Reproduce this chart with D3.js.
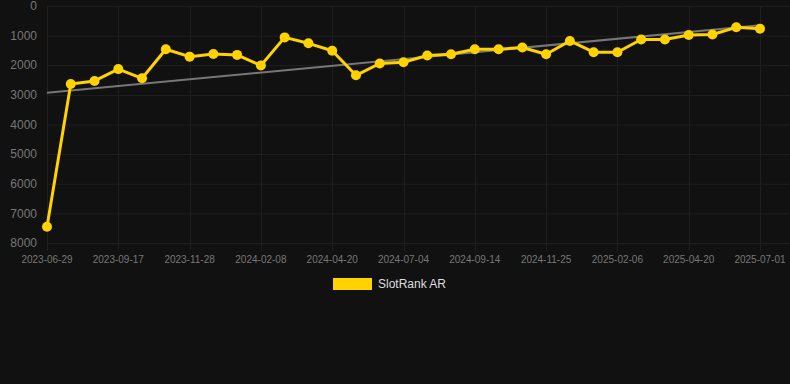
<!DOCTYPE html>
<html lang="en">
<head>
    <meta charset="UTF-8" />
    <title>SlotRank AR</title>
    <script src="https://d3js.org/d3.v7.min.js"></script>
    <style>
        html, body { margin: 0; padding: 0; background: #111111; }
        body { font-family: Arial, "Liberation Sans", sans-serif; }
        .grid line { stroke: #1f1f1f; stroke-width: 1px; }
        .axis text { fill: #777777; }
    </style>
</head>
<body>
    <script>
        // dates (one per point), every 3rd one is labelled
        const dates = [
            "2023-06-29", "2023-07-26", "2023-08-22", "2023-09-17", "2023-10-11", "2023-11-04",
            "2023-11-28", "2023-12-22", "2024-01-15", "2024-02-08", "2024-03-03", "2024-03-27",
            "2024-04-20", "2024-05-15", "2024-06-09", "2024-07-04", "2024-07-28", "2024-08-21",
            "2024-09-14", "2024-10-08", "2024-11-01", "2024-11-25", "2024-12-19", "2025-01-13",
            "2025-02-06", "2025-03-02", "2025-03-27", "2025-04-20", "2025-05-14", "2025-06-07",
            "2025-07-01"
        ];
        // rank values (lower = better, axis is inverted)
        const ranks = [
            7450, 2630, 2530, 2130, 2440, 1460, 1710, 1620, 1650, 2010,
            1060, 1260, 1510, 2340, 1940, 1900, 1670, 1630, 1460, 1460,
            1400, 1630, 1180, 1560, 1560, 1130, 1130, 980, 960, 720, 770
        ];
        // trend line values at first and last date
        const trendEnds = [2930, 650];
        const yTicks = [0, 1000, 2000, 3000, 4000, 5000, 6000, 7000, 8000];
        const seriesName = "SlotRank AR";

        const width = 790;
        const height = 384;
        const margin = { top: 6, right: 30, bottom: 141, left: 47 };
        const innerW = width - margin.left - margin.right;
        const innerH = height - margin.top - margin.bottom;

        const x = d3.scalePoint()
            .domain(dates)
            .range([0, innerW]);

        const y = d3.scaleLinear()
            .domain([0, 8000])
            .range([0, innerH]);

        const svg = d3.select("body")
            .append("svg")
            .attr("width", width)
            .attr("height", height);

        const chart = svg.append("g")
            .attr("transform", `translate(${margin.left}, ${margin.top})`);

        const labelDates = dates.filter((d, i) => i % 3 === 0);

        // grid
        const grid = chart.append("g").attr("class", "grid");
        grid.selectAll(".h")
            .data(yTicks)
            .enter()
            .append("line")
            .attr("x1", 0)
            .attr("x2", innerW + margin.right)
            .attr("y1", d => y(d) + 0.5)
            .attr("y2", d => y(d) + 0.5);
        grid.selectAll(".v")
            .data(labelDates)
            .enter()
            .append("line")
            .attr("x1", d => Math.round(x(d)) + 0.5)
            .attr("x2", d => Math.round(x(d)) + 0.5)
            .attr("y1", 0)
            .attr("y2", innerH + 8);

        // y axis labels
        chart.append("g")
            .attr("class", "axis")
            .selectAll("text")
            .data(yTicks)
            .enter()
            .append("text")
            .attr("x", -10)
            .attr("y", d => y(d))
            .attr("dy", "0.35em")
            .attr("text-anchor", "end")
            .attr("font-size", 12)
            .text(d => d);

        // x axis labels
        chart.append("g")
            .attr("class", "axis")
            .selectAll("text")
            .data(labelDates)
            .enter()
            .append("text")
            .attr("x", d => x(d))
            .attr("y", innerH + 16)
            .attr("dy", "0.35em")
            .attr("text-anchor", "middle")
            .attr("font-size", 10)
            .text(d => d);

        // trend line
        chart.append("line")
            .attr("x1", x(dates[0]))
            .attr("x2", x(dates[dates.length - 1]))
            .attr("y1", y(trendEnds[0]))
            .attr("y2", y(trendEnds[1]))
            .attr("stroke", "#777777")
            .attr("stroke-width", 2);

        // series
        const line = d3.line()
            .x((d, i) => x(dates[i]))
            .y(d => y(d));

        chart.append("path")
            .datum(ranks)
            .attr("d", line)
            .attr("fill", "none")
            .attr("stroke", "#FFD200")
            .attr("stroke-width", 3)
            .attr("stroke-linejoin", "round");

        chart.selectAll(".pt")
            .data(ranks)
            .enter()
            .append("circle")
            .attr("cx", (d, i) => x(dates[i]))
            .attr("cy", d => y(d))
            .attr("r", 5)
            .attr("fill", "#FFD200");

        // legend
        const legend = svg.append("g")
            .attr("transform", "translate(333, 278)");
        legend.append("rect")
            .attr("width", 39)
            .attr("height", 12)
            .attr("fill", "#FFD200");
        legend.append("text")
            .attr("x", 45)
            .attr("y", 6)
            .attr("dy", "0.35em")
            .attr("font-size", 12)
            .attr("fill", "#dddddd")
            .text(seriesName);
    </script>
</body>
</html>
